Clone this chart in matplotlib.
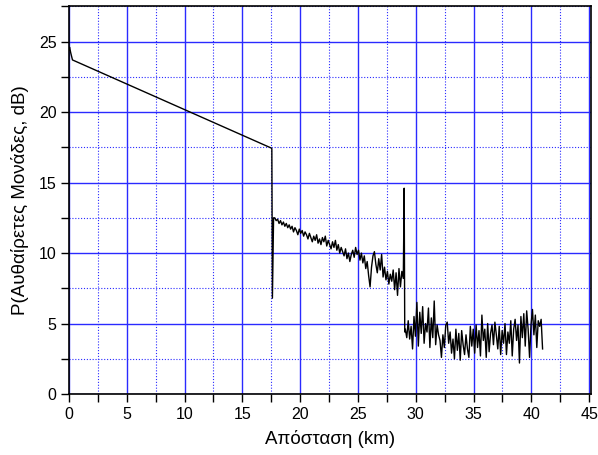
"""
OTDR-style trace: backscattered power vs distance along the fibre.
"""

import numpy as np
import matplotlib.pyplot as plt
from matplotlib.ticker import MultipleLocator

# launch spike + linear fibre section (distance km, power dB)
head_km = [0.0, 0.05, 0.15, 0.3, 17.5, 17.55, 17.6, 17.7]
head_db = [24.4, 24.6, 24.2, 23.7, 17.45, 17.4, 6.8, 12.5]

# second fibre section after the splice, sampled every 0.125 km from 17.8 km
sec2_start, sec2_step = 17.8, 0.125
sec2_db = [
    12.5, 12.3, 12.4, 12.1, 12.3, 12.0, 12.2, 11.9, 12.1, 11.8,
    12.0, 11.7, 11.9, 11.5, 11.8, 11.6, 11.3, 11.7, 11.4, 11.6, 11.2, 11.5,
    11.3, 11.0, 11.4, 11.1, 10.8, 11.2, 10.9, 11.3, 10.7, 11.0, 10.6, 11.1,
    10.8, 11.2, 10.5, 10.9, 10.6, 10.3, 10.8, 10.4, 10.9, 10.2, 10.6, 10.0,
    10.4, 10.1, 9.8, 10.3, 9.6, 10.0, 9.4, 9.9, 10.2, 9.7, 10.4, 9.9,
    10.2, 9.5, 10.0, 9.3, 9.8, 8.9, 9.4, 8.4, 7.6, 9.0, 9.8, 10.1,
    9.2, 8.6, 9.6, 8.8, 9.9, 8.3, 9.0, 8.1, 8.7, 7.8, 8.5, 8.0,
    8.8, 7.4, 8.6, 7.0, 8.9, 7.6, 8.7, 8.2,
]

# end reflection
refl_km = [29.0, 29.05]
refl_db = [14.6, 4.4]

# noise floor after fibre end, every 0.125 km from 29.1 km
noise_start, noise_step = 29.1, 0.125
noise_db = [
    4.6, 4.0, 5.2, 3.9, 4.8, 3.2, 5.5, 4.1, 6.5, 3.4, 5.8, 4.3,
    6.2, 3.6, 5.0, 4.4, 6.1, 3.3, 5.4, 4.0, 6.6, 3.5, 4.9, 4.2,
    3.8, 2.6, 4.2, 3.3, 4.9, 5.1, 3.6, 4.4, 2.9, 3.9, 2.5, 4.6,
    3.1, 4.3, 2.4, 4.5, 3.5, 2.8, 4.2, 3.2, 2.6, 4.8, 3.4, 4.6,
    2.9, 4.9, 3.3, 4.5, 2.7, 5.6, 3.8, 4.6, 2.6, 5.0, 3.0, 4.3,
    4.9, 3.5, 5.1, 4.2, 3.2, 4.8, 2.8, 4.5, 3.6, 5.0, 2.8, 4.4,
    3.6, 5.2, 2.7, 4.6, 5.3, 3.8, 4.9, 2.2, 5.5, 4.0, 5.7, 3.4,
    5.9, 4.6, 2.6, 4.9, 6.0, 4.2, 5.6, 3.3, 5.2, 4.8, 5.3, 3.2,
]


def build_trace():
    sec2_km = sec2_start + sec2_step * np.arange(len(sec2_db))
    noise_km = noise_start + noise_step * np.arange(len(noise_db))
    km = np.concatenate([head_km, sec2_km, refl_km, noise_km])
    db = np.concatenate([head_db, sec2_db, refl_db, noise_db])
    return km, db


def main():
    plt.rcParams["font.family"] = ["Liberation Sans", "DejaVu Sans"]
    km, db = build_trace()

    fig = plt.figure(figsize=(5.98, 4.55), dpi=100)
    ax = fig.add_axes([0.1154, 0.134, 0.8726, 0.852])
    ax.plot(km, db, color="black", lw=1.0)

    ax.set_xlim(0, 45.15)
    ax.set_ylim(0, 27.5)
    ax.xaxis.set_major_locator(MultipleLocator(5))
    ax.xaxis.set_minor_locator(MultipleLocator(2.5))
    ax.yaxis.set_major_locator(MultipleLocator(5))
    ax.yaxis.set_minor_locator(MultipleLocator(2.5))

    ax.grid(which="major", color="#2a2aff", lw=1.0, ls="-")
    ax.grid(which="minor", color="#2a2aff", lw=0.8, ls=(0, (1.0, 1.6)))
    ax.set_axisbelow(True)

    ax.tick_params(which="both", direction="out", length=5.5, width=1,
                   labelsize=11.5, top=False, right=False)
    for s in ax.spines.values():
        s.set_linewidth(1.2)

    ax.set_xlabel("Απόσταση (km)", fontsize=13.5, labelpad=6)
    ax.set_ylabel("P(Αυθαίρετες Μονάδες, dB)", fontsize=13.5, labelpad=7)

    fig.savefig("out.png", dpi=100)


if __name__ == "__main__":
    main()
